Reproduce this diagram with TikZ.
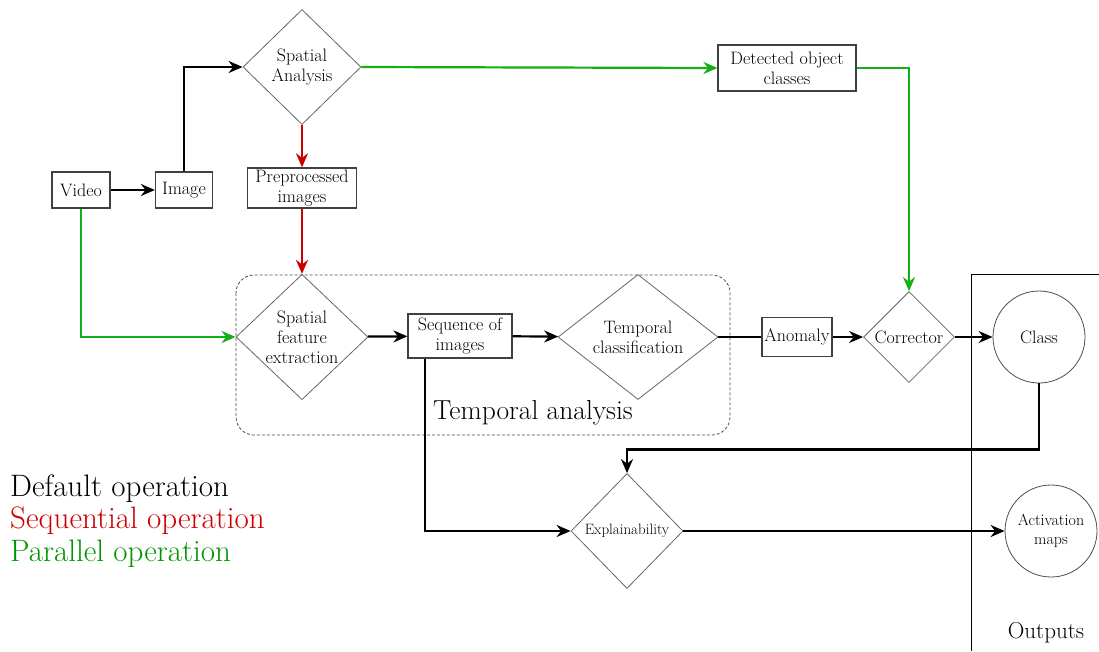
\documentclass[tikz,border=0pt]{standalone}
\usepackage{fontspec}
\usepackage{xcolor}
\usetikzlibrary{arrows.meta,shapes.geometric}
\definecolor{seqred}{RGB}{204,0,0}
\definecolor{pargreen}{RGB}{20,175,20}
\definecolor{txtgreen}{RGB}{0,150,0}
\tikzset{
	box/.style={draw=black!75, line width=1.2pt, inner sep=2pt, align=center,
			font=\fontsize{18}{20}\selectfont},
	decision/.style={diamond, draw=black!60, line width=0.8pt, inner sep=0pt, align=center,
			font=\fontsize{18}{20}\selectfont},
	result/.style={circle, draw=black!70, line width=0.8pt, inner sep=0pt, align=center,
			minimum size=92pt, font=\fontsize{18}{20}\selectfont},
	flow/.style={line width=2.2pt, -{Stealth[length=14pt,width=12pt]}},
	seqflow/.style={flow, seqred},
	parflow/.style={flow, pargreen},
	legend/.style={anchor=west, inner sep=0pt, font=\fontsize{31}{33}\selectfont}
}

\begin{document}
\begin{tikzpicture}[x=1pt,y=-1pt]
            \useasboundingbox (0,0) rectangle (1099,651);
            % Temporal analysis group
            \draw[draw=black!70, line width=0.8pt, dash pattern=on 3pt off 2pt, rounded corners=18pt]
                (236,275) rectangle (730,435);
            \node (tlabel) at (533,413) {\fontsize{27.5}{30}\selectfont Temporal analysis};
            % Outputs frame
            \draw[line width=0.8pt] (971,651) -- (971,274) -- (1099,274);
            \node (outputs) at (1046,633) {\fontsize{23}{25}\selectfont Outputs};
            % Nodes
            \node[box, minimum width=58pt, minimum height=36pt] (video) at (81,190) {Video};
            \node[box, minimum width=57pt, minimum height=36pt] (image) at (184,190) {Image};
            \node[decision, minimum width=118pt, minimum height=115pt] (spatial) at (302,67) {Spatial\\Analysis};
            \node[box, minimum width=109pt, minimum height=39pt] (prep) at (302,188) {Preprocessed\\images};
            \node[decision, minimum width=132pt, minimum height=120pt] (sfe) at (302,337) {Spatial\\feature\\extraction};
            \node[box, minimum width=104pt, minimum height=44pt] (seq) at (460,336) {Sequence of\\images};
            \node[decision, minimum width=160pt, minimum height=125pt] (tclass) at (638,337) {Temporal\\classification};
            \node[box, minimum width=70pt, minimum height=39pt] (anomaly) at (797,337) {Anomaly};
            \node[decision, minimum width=91pt, minimum height=91pt] (corrector) at (909,337) {Corrector};
            \node[result] (class) at (1039,337) {Class};
            \node[box, minimum width=138pt, minimum height=46pt] (doc) at (787,68) {Detected object\\classes};
            \node[decision, minimum width=112pt, minimum height=115pt, font=\fontsize{15}{17}\selectfont] (expl) at (627,531) {Explainability};
            \node[result, font=\fontsize{16}{19}\selectfont] (actmaps) at (1051,531) {Activation\\maps};
            \coordinate (seqout) at ([xshift=-35pt]seq.south);
            % Default operation
            \draw[flow] (video) -- (image);
            \draw[flow] (image.north) |- (spatial.west);
            \draw[flow] (sfe) -- (seq);
            \draw[flow] (seq) -- (tclass);
            \draw[line width=2.2pt] (tclass.east) -- (anomaly.west);
            \draw[flow] (anomaly) -- (corrector);
            \draw[flow] (corrector) -- (class);
            \draw[flow] (class.south) -- ++(0,66) -| (expl.north);
            \draw[flow] (seqout) |- (expl.west);
            \draw[flow] (expl.east) -- (actmaps.west);
            % Sequential operation
            \draw[seqflow] (spatial.south) -- (prep.north);
            \draw[seqflow] (prep.south) -- (sfe.north);
            % Parallel operation
            \draw[parflow] (spatial.east) -- (doc.west);
            \draw[parflow] (doc.east) -| (corrector.north);
            \draw[parflow] (video.south) |- (sfe.west);
            % Legend
            \node[legend] (ldefault) at (10,489) {Default operation};
            \node[legend, text=seqred] (lseq) at (10,521) {Sequential operation};
            \node[legend, text=txtgreen] (lpar) at (10,554) {Parallel operation};
        \end{tikzpicture}
\end{document}
